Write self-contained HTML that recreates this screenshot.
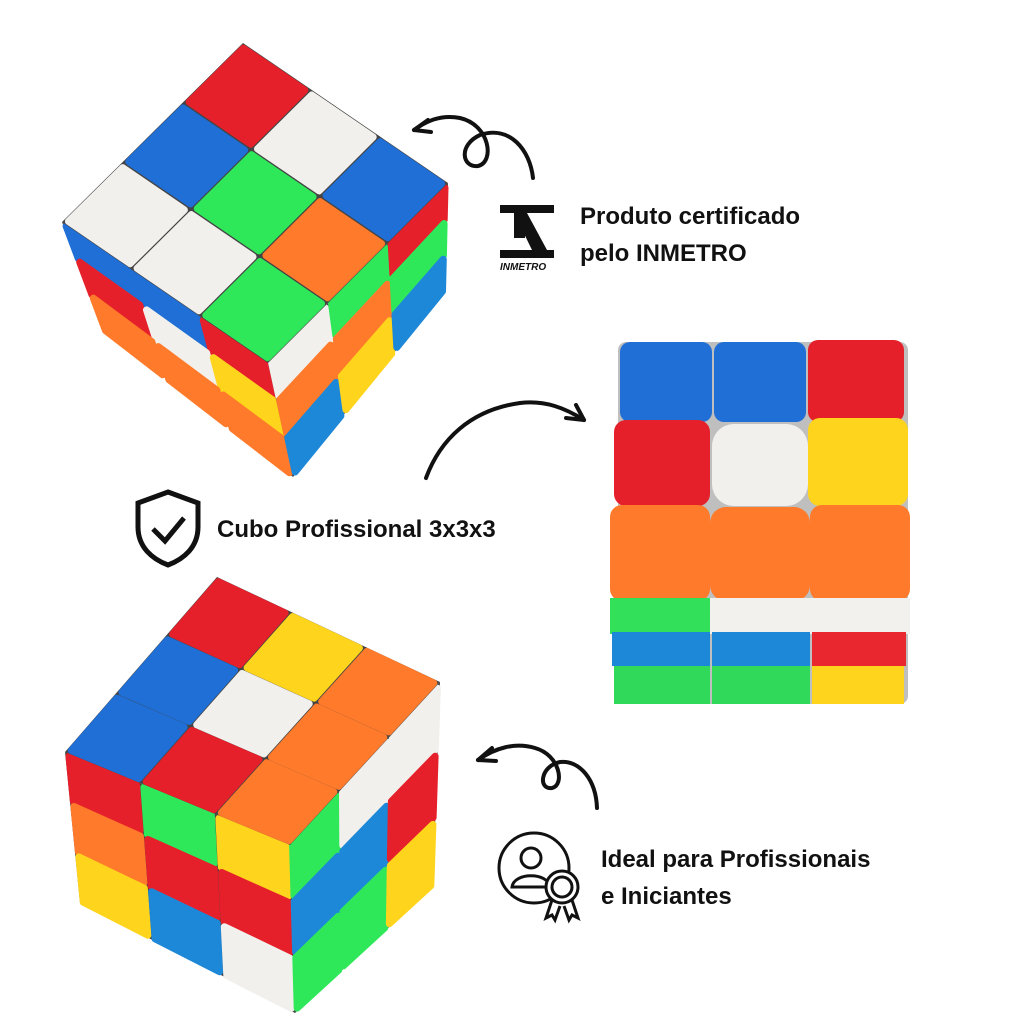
<!DOCTYPE html>
<html><head><meta charset="utf-8"><style>
html,body{margin:0;padding:0;background:#fff;}
svg{display:block}
text{font-family:"Liberation Sans",sans-serif;font-weight:bold;fill:#111;}
</style></head><body>
<svg id="s" width="1024" height="1024" viewBox="0 0 1024 1024" xmlns="http://www.w3.org/2000/svg">
<rect width="1024" height="1024" fill="#fff"/>
<g id="cubes"></g>
<g>
<rect x="618" y="342" width="290" height="362" rx="8" fill="#2a2a2a" opacity="0.3"/>
<rect x="620" y="342" width="92" height="80" rx="10" fill="#1f6fd6"/>
<rect x="714" y="342" width="92" height="80" rx="10" fill="#1f6fd6"/>
<rect x="808" y="340" width="96" height="82" rx="10" fill="#e5202a"/>
<rect x="614" y="420" width="96" height="86" rx="12" fill="#e5202a"/>
<rect x="712" y="424" width="96" height="82" rx="22" fill="#f2f0ec"/>
<rect x="808" y="418" width="100" height="88" rx="12" fill="#ffd41c"/>
<rect x="610" y="505" width="100" height="96" rx="12" fill="#ff7a2a"/>
<rect x="710" y="507" width="100" height="94" rx="16" fill="#ff7a2a"/>
<rect x="810" y="505" width="100" height="96" rx="12" fill="#ff7a2a"/>
<rect x="610" y="598" width="100" height="36" fill="#33e05a"/>
<rect x="710" y="598" width="100" height="36" fill="#f3f1ee"/>
<rect x="810" y="598" width="100" height="36" fill="#f3f1ee"/>
<rect x="612" y="632" width="98" height="34" fill="#1e88d8"/>
<rect x="712" y="632" width="98" height="34" fill="#1e88d8"/>
<rect x="812" y="632" width="94" height="34" fill="#e8282e"/>
<rect x="614" y="666" width="96" height="38" fill="#30d95a"/>
<rect x="712" y="666" width="98" height="38" fill="#30d95a"/>
<rect x="812" y="666" width="92" height="38" fill="#ffd41c"/>
</g>
<g fill="none" stroke="#111" stroke-width="4" stroke-linecap="round">
<path d="M533 178 C530 150 510 125 480 135 C458 145 462 168 478 166 C495 162 490 125 460 118 C440 114 425 122 414 130"/>
<path d="M414 130 l14 -10 M414 130 l17 2"/>
<path d="M426 478 C440 440 470 410 520 403 C545 400 565 408 584 420"/>
<path d="M584 420 l-18 -2 M584 420 l-8 -15"/>
<path d="M597 808 C596 780 580 760 560 762 C540 766 538 790 552 788 C565 785 560 755 535 748 C515 742 495 748 478 760"/>
<path d="M478 760 l14 -12 M478 760 l18 1"/>
</g>
<g fill="#111">
<rect x="500" y="205" width="54" height="8"/>
<rect x="500" y="250" width="54" height="8"/>
<rect x="514" y="213" width="11" height="25"/>
<polygon points="514,213 527,213 547,250 532,250"/>
<text x="500" y="270" font-size="10" font-style="italic">INMETRO</text>
</g>
<text x="580" y="224" font-size="24">Produto certificado</text>
<text x="580" y="261" font-size="24">pelo INMETRO</text>
<path d="M168 492 L198 503 L198 527 C198 547 184 559 168 565 C152 559 138 547 138 527 L138 503 Z" fill="none" stroke="#111" stroke-width="5"/>
<path d="M153 529 L165 541 L184 518" fill="none" stroke="#111" stroke-width="5"/>
<text x="217" y="537" font-size="24">Cubo Profissional 3x3x3</text>
<g fill="none" stroke="#111" stroke-width="3">
<circle cx="534" cy="868" r="35"/>
<circle cx="531" cy="858" r="10"/>
<path d="M512 887 C514 872 548 872 550 887 Z"/>
<circle cx="562" cy="887" r="16" fill="#fff"/>
<circle cx="562" cy="887" r="10"/>
<path d="M552 900 l-6 18 l6 -3 l3 5 l5 -14 M572 900 l6 18 l-6 -3 l-3 5 l-5 -14"/>
</g>
<text x="601" y="867" font-size="24">Ideal para Profissionais</text>
<text x="601" y="904" font-size="24">e Iniciantes</text>
</svg>
<script>
var C={r:"#e5202a",w:"#f2f0ec",b:"#1f6fd6",g:"#2fe85a",o:"#ff7a2a",y:"#ffd41c",l:"#1e88d8",p:"#f06080"};
var g=document.getElementById("cubes"),NS="http://www.w3.org/2000/svg";
function bl(A,B,Cc,D,s,t){
 var x=(1-s)*(1-t)*A[0]+s*(1-t)*B[0]+s*t*Cc[0]+(1-s)*t*D[0];
 var y=(1-s)*(1-t)*A[1]+s*(1-t)*B[1]+s*t*Cc[1]+(1-s)*t*D[1];
 return x.toFixed(1)+","+y.toFixed(1);}
function face(A,B,Cc,D,cols){
 var bg=document.createElementNS(NS,"polygon");
 bg.setAttribute("points",[A,B,Cc,D].map(p=>p.join(",")).join(" "));
 bg.setAttribute("fill","#444");g.appendChild(bg);
 for(var j=0;j<3;j++)for(var i=0;i<3;i++){
  var k=cols[j][i],m=0.05,pts=[];
  [[i+m,j+m],[i+1-m,j+m],[i+1-m,j+1-m],[i+m,j+1-m]].forEach(function(q){pts.push(bl(A,B,Cc,D,q[0]/3,q[1]/3));});
  var p=document.createElementNS(NS,"polygon");p.setAttribute("points",pts.join(" "));
  p.setAttribute("fill",C[k]);p.setAttribute("stroke",C[k]);p.setAttribute("stroke-width","7");p.setAttribute("stroke-linejoin","round");g.appendChild(p);}
}
face([62,222],[268,363],[293,477],[103,330],[["b","b","r"],["r","w","y"],["o","o","o"]]);
face([268,363],[448,183],[445,290],[293,477],[["w","g","r"],["o","o","g"],["l","y","l"]]);
face([243,43],[448,183],[268,363],[62,222],[["r","w","b"],["b","g","o"],["w","w","g"]]);
face([65,752],[290,845],[295,1013],[80,903],[["r","g","y"],["o","r","r"],["y","l","w"]]);
face([290,845],[440,682],[433,887],[295,1013],[["g","w","w"],["l","l","r"],["g","g","y"]]);
face([217,577],[440,682],[290,845],[65,752],[["r","y","o"],["b","w","o"],["b","r","o"]]);
</script>
</body></html>
